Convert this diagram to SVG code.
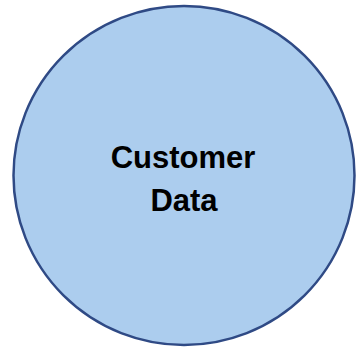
<svg xmlns="http://www.w3.org/2000/svg" width="358" height="349" viewBox="0 0 358 349">
<style>
.node-shape{fill:#ACCDEE;stroke:#2F4A85;stroke-width:2.5}
.label{font-family:"Liberation Sans",Arial,sans-serif;font-weight:bold;font-size:31px;fill:#000;text-anchor:middle}
</style>
<rect width="358" height="349" fill="#fff"/>
<g id="customer-data">
<ellipse class="node-shape" cx="184" cy="175.5" rx="170.5" ry="169.5"/>
<text class="label" x="183" y="168">Customer</text>
<text class="label" x="184" y="211">Data</text>
</g>
<g id="connectors"/>
</svg>
